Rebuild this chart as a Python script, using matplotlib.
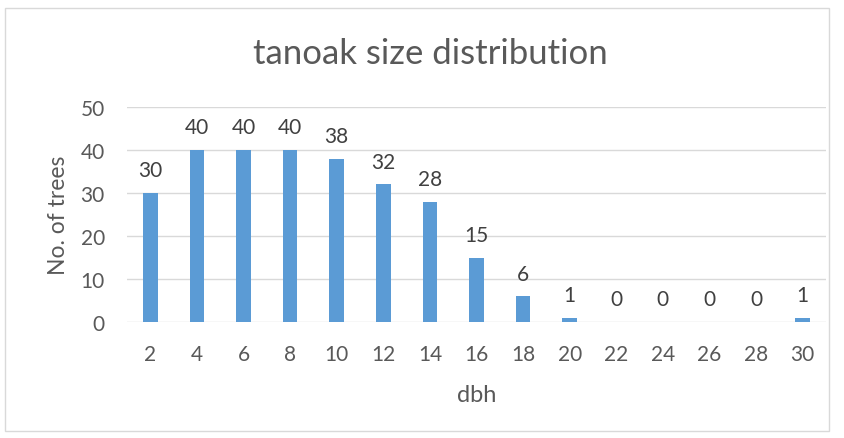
import numpy as np
import matplotlib.pyplot as plt
from matplotlib.patches import Rectangle

dbh = ["2", "4", "6", "8", "10", "12", "14", "16", "18", "20", "22", "24", "26", "28", "30"]
trees = [30, 40, 40, 40, 38, 32, 28, 15, 6, 1, 0, 0, 0, 0, 1]

plt.rcParams['font.family'] = ['Lato', 'DejaVu Sans']
text_color = '#595959'

fig = plt.figure(figsize=(8.44, 4.39), dpi=100)
# chart border
fig.patches.append(Rectangle((5 / 844, 1 - 432 / 439), 824 / 844, 423 / 439,
                             transform=fig.transFigure, fill=False,
                             edgecolor='#D9D9D9', linewidth=1))

ax = fig.add_axes([127 / 844, 1 - 323 / 439, 699 / 844, 215 / 439])
x = np.arange(len(dbh))
ax.bar(x, trees, width=0.31, color='#5B9BD5', zorder=3)

for xi, v in zip(x, trees):
    ax.annotate(str(v), (xi, v), textcoords='offset points', xytext=(0, 9),
                ha='center', va='bottom', fontsize=15, color='#404040')

ax.set_xlim(-0.5, len(dbh) - 0.5)
ax.set_ylim(0, 50)
ax.set_yticks(range(0, 51, 10))
ax.set_xticks(x)
ax.set_xticklabels(dbh)
ax.grid(axis='y', color='#D9D9D9', linewidth=1, zorder=0)
for s in ['top', 'right', 'left', 'bottom']:
    ax.spines[s].set_visible(False)
ax.tick_params(axis='both', length=0, labelsize=15, labelcolor=text_color)
ax.tick_params(axis='x', pad=16)
ax.tick_params(axis='y', pad=16)

ax.set_xlabel("dbh", fontsize=17, color=text_color, labelpad=14)
ax.set_ylabel("No. of trees", fontsize=16.5, color=text_color, labelpad=8)
fig.text(430 / 844, 1 - 54 / 439, "tanoak size distribution", ha='center',
         va='center', fontsize=25, color=text_color)

fig.savefig("out.png", dpi=100)
